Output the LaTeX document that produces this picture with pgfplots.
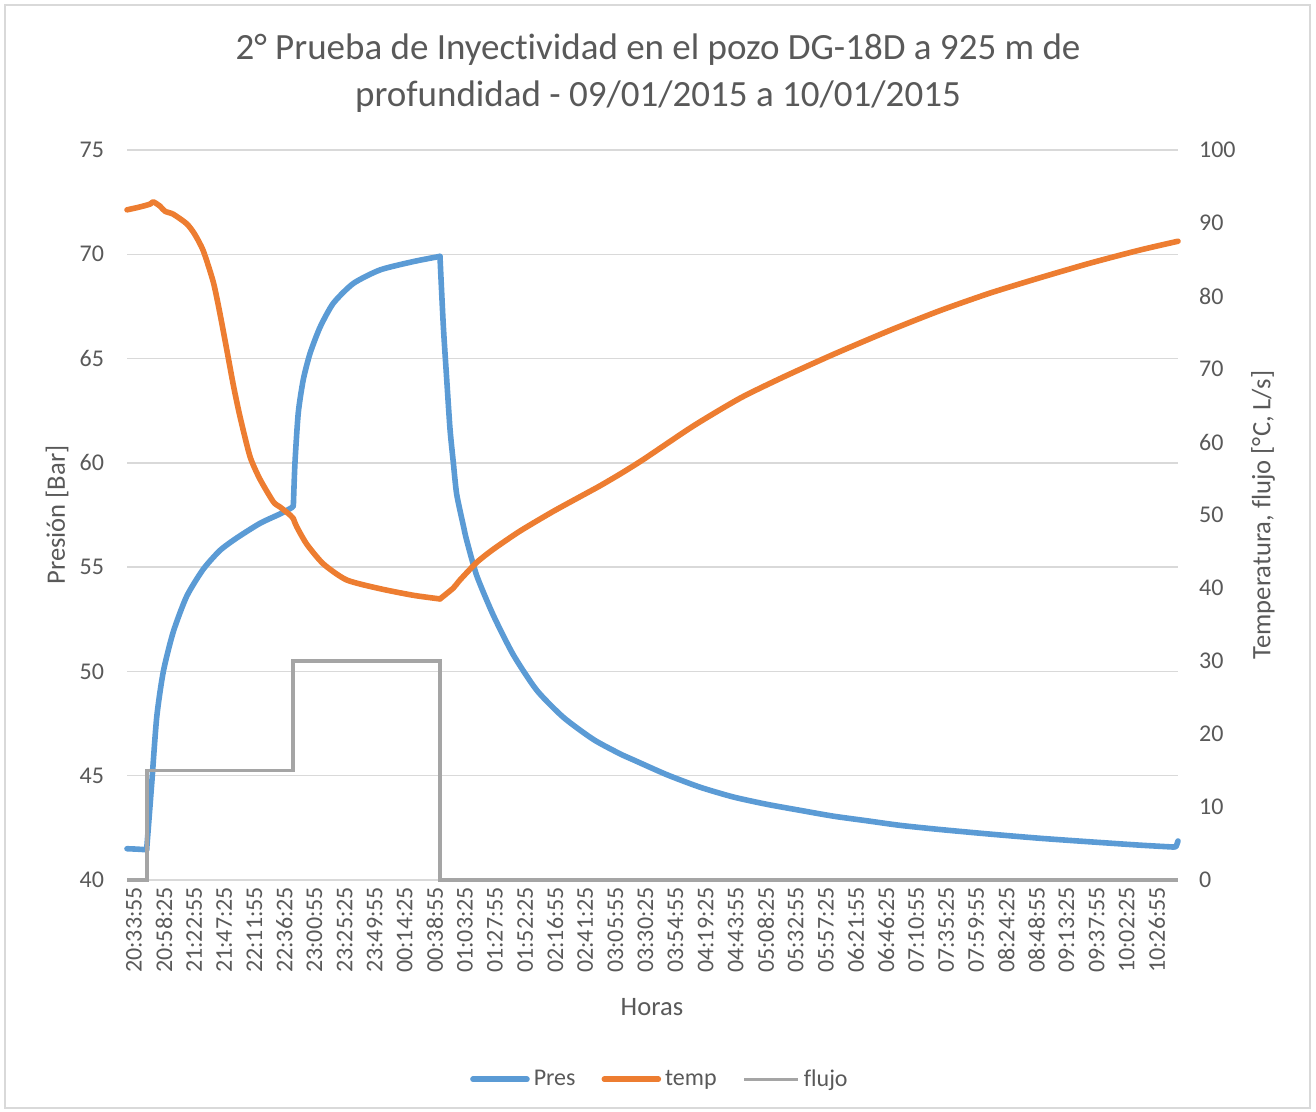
\documentclass[border=0pt]{standalone}
\usepackage{pgfplots}
\usepackage{pgfplotstable}
\pgfplotsset{compat=1.18}
\usepackage{fontspec}
\setmainfont[Ligatures=NoCommon]{Carlito}
\definecolor{cpres}{HTML}{5B9BD5}
\definecolor{ctemp}{HTML}{ED7D31}
\definecolor{cflujo}{HTML}{A5A5A5}
\definecolor{ctext}{HTML}{595959}
\definecolor{cgrid}{HTML}{D9D9D9}
\pgfplotsset{
  presline/.style={color=cpres, line width=2.8pt, line join=round, line cap=round, no markers},
  templine/.style={color=ctemp, line width=2.8pt, line join=round, line cap=round, no markers},
}

% Pres, split at the corners of the curve
\pgfplotstableread{
t p
0 41.5
8 41.48
16.0 41.45
}\presA
\pgfplotstableread{
t p
16.0 41.45
20.1 44.6
24.2 47.8
29.6 50.0
37.7 51.9
48.6 53.6
62.1 54.9
75.7 55.8
89.4 56.4
108.3 57.1
124.6 57.55
134.1 57.85
135.5 57.95
}\presB
\pgfplotstableread{
t p
135.5 57.95
136.8 60.0
139.5 62.4
143.6 64.0
149.1 65.25
157.2 66.5
168.0 67.65
184.3 68.6
206.1 69.25
233.2 69.65
254.9 69.9
}\presC
\pgfplotstableread{
t p
254.9 69.9
257.6 66.6
260.4 64.0
263.1 61.6
265.8 60.0
268.5 58.5
273.9 57.0
276.6 56.3
284.8 54.6
298.3 52.7
314.6 50.8
333.7 49.1
355.4 47.8
379.8 46.74
401.5 46.05
412.4 45.76
439.6 45.05
466.7 44.45
493.8 43.98
521.0 43.63
548.2 43.34
575.3 43.06
602.5 42.84
629.6 42.62
662.2 42.42
702.9 42.2
743.6 42.0
784.4 41.83
825.1 41.67
852.2 41.58
}\presD
\pgfplotstableread{
t p
852.2 41.58
854.4 41.6
856 41.87
}\presE

% temp, split at the corners
\pgfplotstableread{
t T
0 91.8
10.6 92.2
19 92.6
21.4 92.9
26.9 92.3
31 91.6
37.7 91.2
48.6 89.9
55 88.5
62.1 86.2
70.3 81.9
75.7 77.6
81.2 72.7
86.6 67.8
92.0 63.5
100.2 58.0
108.3 54.9
119.2 51.8
124.6 51.1
132.8 50.0
135.5 49.5
}\tempA
\pgfplotstableread{
t T
135.5 49.5
138.2 48.4
146.4 46.0
159.9 43.3
178.9 41.1
206.1 39.9
233.2 39.0
254.9 38.5
}\tempB
\pgfplotstableread{
t T
254.9 38.5
265.8 40.0
271.2 41.1
284.8 43.5
298.3 45.3
320.1 47.8
347.2 50.5
374.4 53.0
385.3 54.0
401.5 55.6
420.5 57.6
461.3 62.2
499.3 66.0
534.6 68.9
575.3 72.0
621.5 75.3
662.2 78.0
702.9 80.4
743.6 82.5
784.4 84.5
825.1 86.3
856 87.5
}\tempC

\pgfplotstableread{
t f
0 0
16.3 0
16.3 15
135.2 15
135.2 30
254.9 30
254.9 0
856 0
}\flujotable

\begin{document}
\begin{tikzpicture}
\useasboundingbox (0,0) rectangle (658pt,556pt);
\draw[cgrid, line width=0.75pt] (2.5pt,2pt) rectangle (655pt,553.5pt);
\node[align=center, text=ctext, font=\fontsize{18.5}{23.5}\selectfont] at (329pt,519.25pt)
  {2° Prueba de Inyectividad en el pozo DG-18D a 925 m de\\profundidad - 09/01/2015 a 10/01/2015};

\begin{axis}[
  at={(63.5pt,116pt)}, anchor=south west, scale only axis,
  width=525.5pt, height=365pt,
  xmin=0, xmax=856, ymin=40, ymax=75,
  ytick={40,45,50,55,60,65,70,75},
  xtick={0,24.5,49,73.5,98,122.5,147,171.5,196,220.5,245,269.5,294,318.5,343,367.5,392,416.5,441,465.5,490,514.5,539,563.5,588,612.5,637,661.5,686,710.5,735,759.5,784,808.5,833},
  xticklabels={20:33:55,20:58:25,21:22:55,21:47:25,22:11:55,22:36:25,23:00:55,23:25:25,23:49:55,00:14:25,00:38:55,01:03:25,01:27:55,01:52:25,02:16:55,02:41:25,03:05:55,03:30:25,03:54:55,04:19:25,04:43:55,05:08:25,05:32:55,05:57:25,06:21:55,06:46:25,07:10:55,07:35:25,07:59:55,08:24:25,08:48:55,09:13:25,09:37:55,10:02:25,10:26:55},
  axis x line=bottom, axis y line=left,
  axis line style={-},
  x axis line style={cgrid, line width=1pt},
  y axis line style={draw=none},
  major tick length=0pt,
  ymajorgrids, grid style={cgrid, line width=0.75pt},
  tick label style={font=\fontsize{12}{14}\selectfont, text=ctext},
  /pgf/number format/assume math mode=true,
  xticklabel style={rotate=90, anchor=east, yshift=-3.5pt},
  yticklabel style={anchor=east, xshift=-8pt},
  xlabel={Horas}, ylabel={Presión [Bar]},
  label style={font=\fontsize{13.3}{15}\selectfont, text=ctext},
  xlabel style={at={(axis description cs:0.4995,-0.174)}, anchor=center},
  ylabel style={at={(axis description cs:-0.0666,0.5)}, anchor=center},
  clip=false,
]
\addplot[presline] table[x=t, y=p] {\presA};
\addplot[presline, smooth, tension=0.4] table[x=t, y=p] {\presB};
\addplot[presline, smooth, tension=0.4] table[x=t, y=p] {\presC};
\addplot[presline, smooth, tension=0.4] table[x=t, y=p] {\presD};
\addplot[presline] table[x=t, y=p] {\presE};
\end{axis}

\begin{axis}[
  at={(63.5pt,116pt)}, anchor=south west, scale only axis,
  width=525.5pt, height=365pt,
  xmin=0, xmax=856, ymin=0, ymax=100,
  ytick={0,10,20,30,40,50,60,70,80,90,100},
  axis x line=none, axis y line*=right,
  axis line style={-},
  y axis line style={draw=none},
  major tick length=0pt,
  tick label style={font=\fontsize{12}{14}\selectfont, text=ctext},
  /pgf/number format/assume math mode=true,
  yticklabel style={anchor=west, xshift=7pt},
  ylabel={Temperatura, flujo [°C, L/s]},
  label style={font=\fontsize{13.3}{15}\selectfont, text=ctext},
  ylabel style={at={(axis description cs:1.081,0.5)}, anchor=center, rotate=0},
  clip=false,
  legend columns=3,
  legend style={at={(0.508,-0.273)}, anchor=center, draw=none, fill=none,
    font=\fontsize{12}{14}\selectfont, text=ctext,
    /tikz/every even column/.append style={column sep=11pt}},
  legend cell align=left,
  legend image code/.code={\draw[#1] (0pt,0pt) -- (27pt,0pt);},
]
\addlegendimage{cpres, line width=2.8pt, line cap=round}
\addlegendentry{Pres}
\addlegendimage{ctemp, line width=2.8pt, line cap=round}
\addlegendentry{temp}
\addlegendimage{cflujo, line width=1.6pt}
\addlegendentry{flujo}
\addplot[templine, smooth, tension=0.4, forget plot] table[x=t, y=T] {\tempA};
\addplot[templine, smooth, tension=0.4, forget plot] table[x=t, y=T] {\tempB};
\addplot[templine, smooth, tension=0.4, forget plot] table[x=t, y=T] {\tempC};
\addplot[color=cflujo, line width=1.6pt, line join=miter, no markers, forget plot] table[x=t, y=f] {\flujotable};
\end{axis}
\end{tikzpicture}
\end{document}
